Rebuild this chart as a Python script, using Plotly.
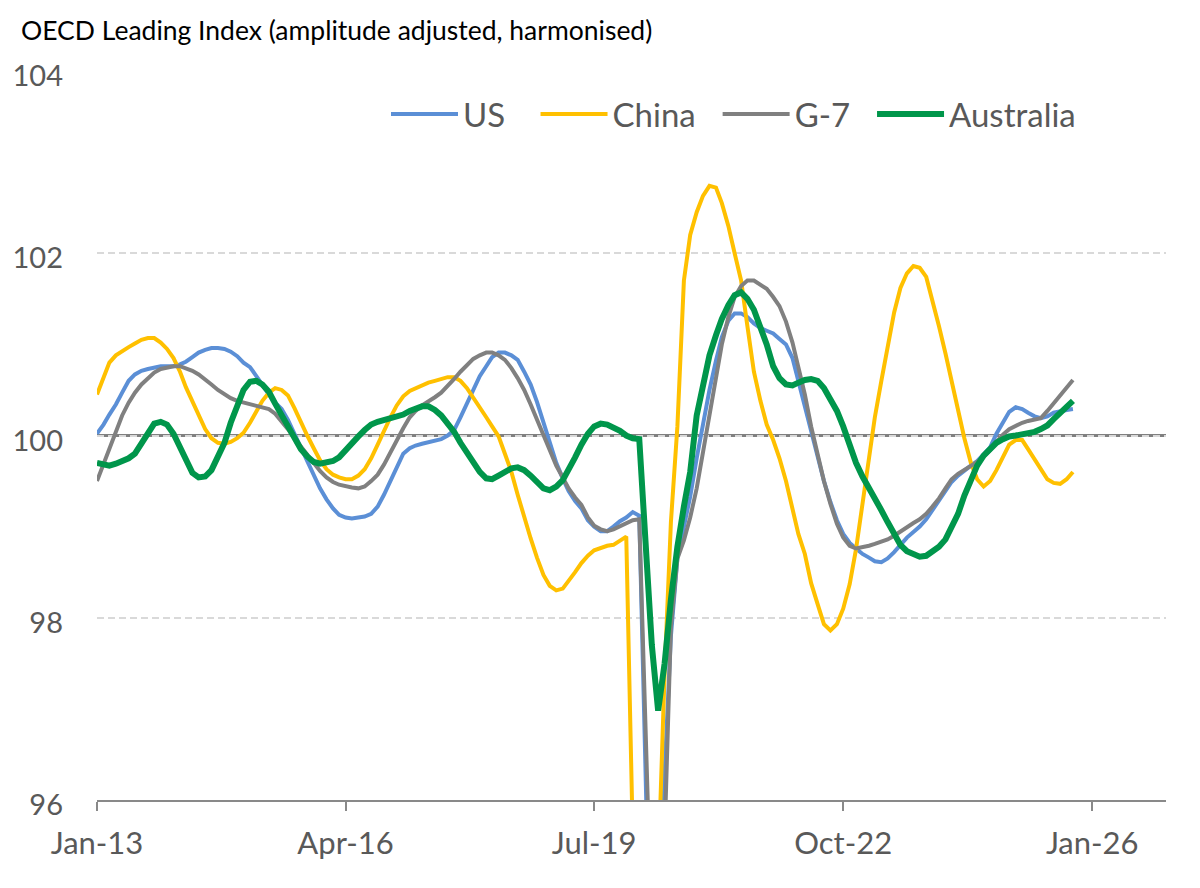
import pandas as pd
import plotly.graph_objects as go

# OECD composite leading indicators, monthly, Jan-2013 .. Oct-2025
start_month = "2013-01-01"

us = [
    100.02, 100.12, 100.23, 100.34, 100.47, 100.60, 100.67, 100.71, 100.73, 100.75, 100.76, 100.76,
    100.76, 100.78, 100.81, 100.86, 100.91, 100.94, 100.96, 100.96, 100.95, 100.92, 100.87, 100.80,
    100.75, 100.65, 100.55, 100.45, 100.36, 100.29, 100.17, 100.02, 99.87, 99.71, 99.57, 99.42,
    99.30, 99.20, 99.13, 99.10, 99.09, 99.10, 99.11, 99.14, 99.22, 99.35, 99.50, 99.66,
    99.80, 99.86, 99.89, 99.91, 99.93, 99.94, 99.96, 100.00, 100.06, 100.20, 100.36, 100.51,
    100.65, 100.76, 100.86, 100.91, 100.91, 100.88, 100.83, 100.70, 100.56, 100.37, 100.15, 99.92,
    99.70, 99.53, 99.39, 99.28, 99.20, 99.07, 99.00, 98.95, 98.95, 99.00, 99.06, 99.10,
    99.16, 99.12, 96.50, 93.50, 94.00, 96.30, 97.80, 98.65, 99.00, 99.33, 99.75, 100.13,
    100.50, 100.82, 101.08, 101.26, 101.34, 101.34, 101.30, 101.23, 101.18, 101.15, 101.12, 101.06,
    101.00, 100.85, 100.60, 100.33, 100.05, 99.75, 99.50, 99.27, 99.07, 98.92, 98.82, 98.76,
    98.70, 98.66, 98.62, 98.61, 98.65, 98.72, 98.80, 98.88, 98.94, 99.00, 99.08, 99.18,
    99.28, 99.39, 99.49, 99.56, 99.62, 99.67, 99.72, 99.79, 99.87, 100.02, 100.15, 100.26,
    100.31, 100.29, 100.25, 100.21, 100.19, 100.21, 100.25, 100.27, 100.28, 100.29,
]

china = [
    100.45, 100.65, 100.80, 100.88, 100.93, 100.97, 101.01, 101.05, 101.07, 101.07, 101.02, 100.95,
    100.85, 100.70, 100.53, 100.38, 100.22, 100.07, 99.97, 99.92, 99.91, 99.93, 99.97, 100.03,
    100.14, 100.27, 100.38, 100.47, 100.52, 100.50, 100.44, 100.30, 100.14, 100.00, 99.86, 99.73,
    99.63, 99.57, 99.54, 99.52, 99.52, 99.56, 99.63, 99.75, 99.90, 100.06, 100.20, 100.33,
    100.43, 100.49, 100.52, 100.55, 100.58, 100.60, 100.62, 100.64, 100.64, 100.60, 100.52, 100.42,
    100.32, 100.20, 100.10, 99.99, 99.80, 99.60, 99.35, 99.10, 98.87, 98.66, 98.47, 98.35,
    98.30, 98.32, 98.40, 98.50, 98.60, 98.68, 98.74, 98.77, 98.79, 98.80, 98.84, 98.89,
    95.60, 92.00, 92.50, 93.50, 95.20, 97.40, 99.05, 100.10, 101.70, 102.20, 102.45, 102.63,
    102.74, 102.72, 102.55, 102.30, 102.00, 101.70, 101.20, 100.70, 100.38, 100.12, 99.95, 99.75,
    99.50, 99.20, 98.92, 98.70, 98.38, 98.15, 97.93, 97.86, 97.93, 98.10, 98.37, 98.75,
    99.25, 99.77, 100.20, 100.60, 101.00, 101.35, 101.62, 101.78, 101.86, 101.84, 101.74, 101.48,
    101.20, 100.90, 100.60, 100.30, 99.97, 99.70, 99.52, 99.44, 99.50, 99.62, 99.77, 99.90,
    99.95, 99.95, 99.85, 99.74, 99.62, 99.52, 99.48, 99.47, 99.52, 99.60,
]

g7 = [
    99.50, 99.68, 99.86, 100.04, 100.22, 100.36, 100.47, 100.56, 100.63, 100.69, 100.73, 100.75,
    100.76, 100.76, 100.74, 100.71, 100.67, 100.62, 100.56, 100.50, 100.45, 100.41, 100.38, 100.36,
    100.34, 100.33, 100.31, 100.29, 100.24, 100.16, 100.07, 99.97, 99.88, 99.79, 99.70, 99.61,
    99.54, 99.49, 99.46, 99.44, 99.43, 99.42, 99.44, 99.50, 99.57, 99.68, 99.82, 99.96,
    100.08, 100.20, 100.27, 100.33, 100.37, 100.42, 100.47, 100.54, 100.62, 100.70, 100.77, 100.84,
    100.88, 100.91, 100.91, 100.88, 100.83, 100.74, 100.63, 100.50, 100.34, 100.17, 99.99, 99.82,
    99.67, 99.54, 99.42, 99.32, 99.24, 99.10, 99.01, 98.97, 98.95, 98.97, 99.00, 99.04,
    99.07, 99.08, 96.70, 94.50, 94.00, 95.60, 97.90, 98.65, 98.85, 99.10, 99.42, 99.80,
    100.20, 100.62, 101.00, 101.30, 101.52, 101.64, 101.70, 101.70, 101.66, 101.61, 101.52, 101.42,
    101.25, 101.02, 100.75, 100.45, 100.10, 99.80, 99.50, 99.25, 99.03, 98.88, 98.79, 98.76,
    98.77, 98.79, 98.81, 98.83, 98.86, 98.90, 98.95, 99.00, 99.04, 99.08, 99.14, 99.22,
    99.31, 99.42, 99.52, 99.58, 99.62, 99.66, 99.71, 99.77, 99.84, 99.93, 100.01, 100.07,
    100.11, 100.14, 100.16, 100.17, 100.19, 100.27, 100.35, 100.44, 100.53, 100.61,
]

australia = [
    99.70, 99.68, 99.67, 99.69, 99.72, 99.75, 99.80, 99.92, 100.04, 100.13, 100.15, 100.12,
    100.02, 99.87, 99.72, 99.59, 99.54, 99.55, 99.62, 99.76, 99.92, 100.14, 100.34, 100.50,
    100.59, 100.60, 100.56, 100.48, 100.35, 100.22, 100.08, 99.95, 99.85, 99.77, 99.71, 99.69,
    99.70, 99.72, 99.76, 99.83, 99.91, 99.99, 100.06, 100.12, 100.15, 100.17, 100.19, 100.21,
    100.23, 100.27, 100.30, 100.32, 100.32, 100.28, 100.22, 100.13, 100.04, 99.92, 99.82, 99.71,
    99.60, 99.53, 99.52, 99.56, 99.60, 99.64, 99.65, 99.62, 99.56, 99.48, 99.42, 99.40,
    99.44, 99.51, 99.62, 99.76, 99.90, 100.02, 100.10, 100.13, 100.12, 100.09, 100.05, 100.00,
    99.97, 99.96, 98.80, 97.70, 96.98, 97.50, 98.20, 98.78, 99.22, 99.60, 100.22, 100.57,
    100.88, 101.10, 101.28, 101.43, 101.54, 101.57, 101.50, 101.38, 101.20, 101.00, 100.76, 100.63,
    100.56, 100.55, 100.58, 100.61, 100.62, 100.60, 100.52, 100.40, 100.27, 100.10, 99.87, 99.70,
    99.55, 99.43, 99.30, 99.18, 99.05, 98.92, 98.80, 98.73, 98.69, 98.67, 98.68, 98.72,
    98.78, 98.86, 98.98, 99.14, 99.34, 99.52, 99.67, 99.78, 99.86, 99.92, 99.96, 99.99,
    100.00, 100.01, 100.02, 100.04, 100.07, 100.11, 100.18, 100.25, 100.32, 100.38,
]

months = pd.date_range(start_month, periods=len(us), freq="MS")

NBSP = "\u00a0"
series = [
    ("US" + NBSP * 3, us, "#5B8FD6", 4),
    ("China" + NBSP * 2, china, "#FFC000", 4),
    ("G-7" + NBSP * 2, g7, "#808080", 4),
    ("Australia", australia, "#00964B", 6),
]

tick_dates = ["2013-01-01", "2016-04-01", "2019-07-01", "2022-10-01", "2026-01-01"]
tick_text = ["Jan-13", "Apr-16", "Jul-19", "Oct-22", "Jan-26"]

FONT = "Lato, sans-serif"
GREY_TXT = "#595959"

# the page body adds an 8px offset, so margins are shifted to compensate
L, R, T, B = 89, 42, 63, 96
PLOT_W, PLOT_H = 1200 - L - R, 888 - T - B

fig = go.Figure()
for name, vals, colour, width in series:
    fig.add_trace(go.Scatter(
        x=months, y=vals, name=name, mode="lines",
        line=dict(color=colour, width=width),
    ))

# solid reference line at 100
fig.add_shape(type="line", xref="paper", x0=0, x1=1, yref="y", y0=100, y1=100,
              line=dict(color="#808080", width=3), layer="below")

fig.update_layout(
    width=1200, height=888,
    margin=dict(l=L, r=R, t=T, b=B),
    paper_bgcolor="white", plot_bgcolor="white",
    font=dict(family=FONT, color=GREY_TXT, size=30),
    title=dict(
        text="OECD Leading Index (amplitude adjusted, harmonised)",
        x=13 / 1200, xref="container", xanchor="left",
        y=1 - 23 / 888, yref="container", yanchor="middle",
        font=dict(family=FONT, size=26.5, color="black"),
    ),
    showlegend=True,
    legend=dict(
        orientation="h", x=(378 - L) / PLOT_W, xanchor="left",
        y=(888 - B - 106) / PLOT_H, yanchor="middle",
        font=dict(family=FONT, size=33, color=GREY_TXT),
        bgcolor="rgba(0,0,0,0)", itemwidth=67,
    ),
    xaxis=dict(
        type="date", automargin=False,
        range=["2013-01-01", "2026-12-19"],
        tickvals=tick_dates, ticktext=tick_text,
        showgrid=False, zeroline=False,
        showline=True, linecolor="#898989", linewidth=2,
        ticks="outside", ticklen=9, tickwidth=2, tickcolor="#898989",
        tickfont=dict(family=FONT, size=31, color=GREY_TXT),
        ticklabelstandoff=6,
    ),
    yaxis=dict(
        range=[96, 104], automargin=False,
        tickvals=[96, 98, 100, 102, 104],
        showgrid=True, gridcolor="#D9D9D9", gridwidth=1.5, griddash="7px,4px",
        zeroline=False, showline=False, ticks="",
        tickfont=dict(family=FONT, size=29, color=GREY_TXT),
        ticklabelstandoff=33, ticklabelshift=5,
    ),
)

fig.write_html("out.html")
